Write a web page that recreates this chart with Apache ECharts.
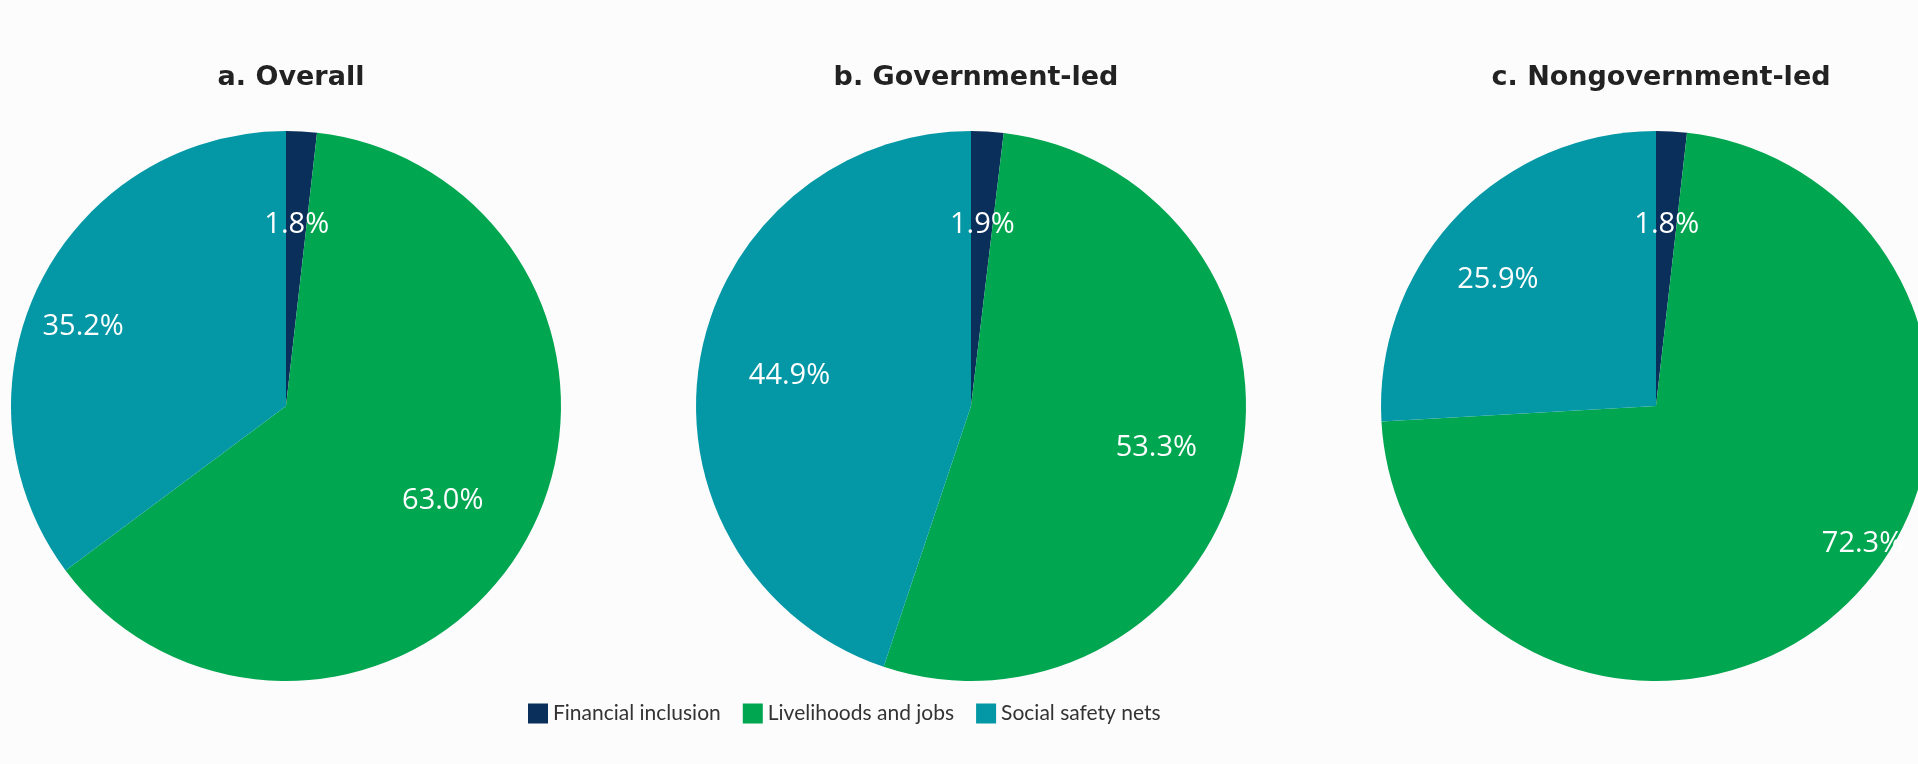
<!DOCTYPE html>
<html>
<head>
<meta charset="utf-8">
<script src="https://cdn.jsdelivr.net/npm/echarts@6/dist/echarts.min.js"></script>
<style>
  html, body { margin: 0; padding: 0; background: #fcfcfc; }
  #main { width: 1918px; height: 764px; }
</style>
</head>
<body>
<div id="main"></div>
<script>
var categories = ['Financial inclusion', 'Livelihoods and jobs', 'Social safety nets'];
var panelTitles = ['a. Overall', 'b. Government-led', 'c. Nongovernment-led'];
var overallValues = [1.8, 63.0, 35.2];
var governmentValues = [1.9, 53.3, 44.9];
var nongovernmentValues = [1.8, 72.3, 25.9];

var colors = ['#0b2f5b', '#00a650', '#0498a6'];
var centersX = [286, 971, 1656];
var centerY = 406;
var pieRadius = 275;
// small nudges so labels sit where the original put them
var labelNudges = [
	[[0, 8], [-8, 0], [-33, 6]],
	[[0, 8], [0, 0], [6, 0]],
	[[0, 8], [76, 0], [-20, 4]]
];

var myChart = echarts.init(document.getElementById('main'));

var allValues = [overallValues, governmentValues, nongovernmentValues];
var series = [];
var titles = [];

allValues.forEach(function (values, k) {
	series.push({
		type: 'pie',
		center: [centersX[k], centerY],
		radius: [0, pieRadius],
		startAngle: 90,
		clockwise: true,
		label: { show: false },
		labelLine: { show: false },
		emphasis: { disabled: true },
		data: values.map(function (v, i) {
			return { name: categories[i], value: v };
		})
	});
	// transparent twin, only used to carry the labels further out
	series.push({
		type: 'pie',
		center: [centersX[k], centerY],
		radius: [0, pieRadius * 1.36],
		startAngle: 90,
		clockwise: true,
		silent: true,
		avoidLabelOverlap: false,
		itemStyle: { color: 'rgba(0,0,0,0)' },
		label: {
			show: true,
			position: 'inside',
			color: '#ffffff',
			fontFamily: 'Open Sans',
			fontSize: 29,
			formatter: function (p) { return p.value.toFixed(1) + '%'; }
		},
		labelLine: { show: false },
		emphasis: { disabled: true },
		data: values.map(function (v, i) {
			return { name: categories[i], value: v, label: { offset: labelNudges[k][i] } };
		})
	});
	titles.push({
		text: panelTitles[k],
		left: centersX[k],
		top: 59,
		textAlign: 'center',
		textStyle: { fontFamily: 'DejaVu Sans', fontWeight: 'bold', fontSize: 27, color: '#222222' }
	});
});

var option = {
	color: colors,
	animation: false,
	title: titles,
	legend: {
		data: categories,
		left: 523,
		top: 698,
		itemWidth: 20,
		itemHeight: 20,
		itemGap: 22,
		itemStyle: { borderWidth: 0 },
		icon: 'rect',
		textStyle: { fontFamily: 'Lato', fontSize: 21, color: '#333333' }
	},
	series: series
};

myChart.setOption(option);
</script>
</body>
</html>
